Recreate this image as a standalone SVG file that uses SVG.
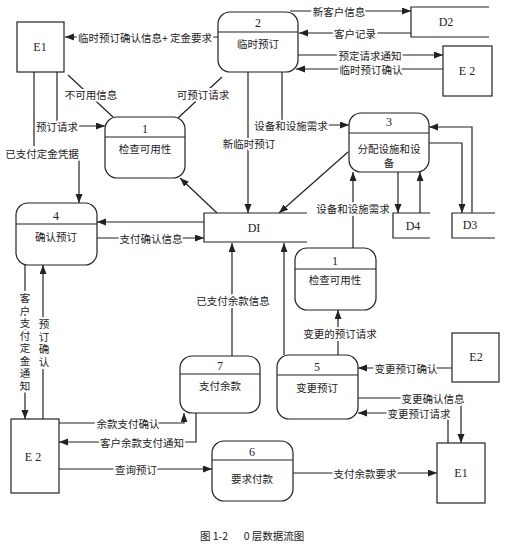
<svg xmlns="http://www.w3.org/2000/svg" width="509" height="550" viewBox="0 0 509 550">
<style>
.box{fill:#fff;stroke:#222;stroke-width:1.2}
.st{fill:none;stroke:#222;stroke-width:1.2}
.ln{fill:none;stroke:#222;stroke-width:1.2}
.arr{marker-end:url(#a)}
text{font-family:"Noto Sans CJK SC","Liberation Sans",sans-serif;font-size:10.5px;fill:#222;text-anchor:middle;dominant-baseline:central}
.lat{font-family:"Liberation Serif","Noto Sans CJK SC",serif;font-size:12px}
.h{stroke:#fff;stroke-width:4;paint-order:stroke;stroke-linejoin:round}
.v{writing-mode:vertical-rl;text-anchor:start;letter-spacing:2px}
</style>
<defs>
<marker id="a" markerUnits="userSpaceOnUse" markerWidth="10" markerHeight="8" refX="9" refY="3.5" orient="auto">
<path d="M0,0 L9,3.5 L0,7 z" fill="#222"/>
</marker>
</defs>
<rect width="509" height="550" fill="#fff"/>

<g id="connectors">
<path class="ln arr" d="M218,37 H65"/>
<text class="h" x="145" y="37">临时预订确认信息+ 定金要求</text>
<path class="ln arr" d="M290,11 H411"/>
<text class="h" x="339" y="11">新客户信息</text>
<path class="ln arr" d="M411,33 H299"/>
<text class="h" x="355" y="33">客户记录</text>
<path class="ln arr" d="M297,55 H443"/>
<text class="h" x="370" y="55">预定请求通知</text>
<path class="ln arr" d="M443,69 H296"/>
<text class="h" x="371" y="69">临时预订确认</text>
<path class="ln" d="M68,75 L113,117"/>
<text class="h" x="91" y="94">不可用信息</text>
<path class="ln" d="M222,77 L178,118"/>
<text class="h" x="203" y="94">可预订请求</text>
<path class="ln arr" d="M57,72 V126 H105"/>
<text class="h" x="57" y="126">预订请求</text>
<path class="ln" d="M34,72 V146"/>
<path class="ln arr" d="M79,160 V203"/>
<text class="h" x="42" y="153">已支付定金凭据</text>
<path class="ln arr" d="M248,72 V213"/>
<text class="h" x="249" y="143">新临时预订</text>
<path class="ln arr" d="M282,72 V125 H349"/>
<text class="h" x="291" y="125">设备和设施需求</text>
<path class="ln arr" d="M217,213 L180,178"/>
<path class="ln arr" d="M348,152 L279,213"/>
<path class="ln arr" d="M204,222 H97"/>
<path class="ln arr" d="M97,238 H204"/>
<text class="h" x="151" y="238">支付确认信息</text>
<path class="ln arr" d="M398,172 V213"/>
<path class="ln arr" d="M420,213 V172"/>
<path class="ln arr" d="M429,143 H462 V213"/>
<path class="ln arr" d="M472,213 V127 H429"/>
<path class="ln arr" d="M353,248 V172"/>
<text class="h" x="353" y="208">设备和设施需求</text>
<path class="ln arr" d="M338,355 V310"/>
<text class="h" x="340" y="333">变更的预订请求</text>
<path class="ln arr" d="M284,355 V243"/>
<path class="ln arr" d="M232,356 V243"/>
<text class="h" x="233" y="300">已支付余款信息</text>
<path class="ln arr" d="M452,368 H358"/>
<text class="h" x="406" y="368">变更预订确认</text>
<path class="ln arr" d="M358,398 H461 V443"/>
<text class="h" x="433" y="398">变更确认信息</text>
<path class="ln arr" d="M448,443 V413 H358"/>
<text class="h" x="419" y="413">变更预订请求</text>
<path class="ln arr" d="M293,473 H437"/>
<text class="h" x="365" y="473">支付余款要求</text>
<path class="ln arr" d="M59,469 H212"/>
<text class="h" x="136" y="469">查询预订</text>
<path class="ln arr" d="M59,423 H184 V413"/>
<text class="h" x="128" y="423">余款支付确认</text>
<path class="ln arr" d="M196,413 V442 H59"/>
<text class="h" x="142" y="442">客户余款支付通知</text>
<path class="ln arr" d="M25,265 V419"/>
<text class="h v" x="25" y="293">客户支付定金通知</text>
<path class="ln arr" d="M43,419 V265"/>
<text class="h v" x="44" y="319">预订确认</text>
</g>

<g id="E1-top">
<rect class="box" x="17" y="22" width="47" height="50"/>
<text class="lat" x="40" y="47">E1</text>
</g>
<g id="P2">
<rect class="box" x="218" y="12" width="80" height="60" rx="12"/>
<path class="st" d="M218,32 H298"/>
<text class="lat" x="258" y="23">2</text>
<text x="258" y="43">临时预订</text>
</g>
<g id="D2">
<path class="st" d="M489,7 H411 V37 H489"/>
<text class="lat" x="446" y="22">D2</text>
</g>
<g id="E2-top">
<rect class="box" x="443" y="46" width="49" height="50"/>
<text class="lat" x="467" y="71">E 2</text>
</g>
<g id="P1">
<rect class="box" x="105" y="117" width="80" height="61" rx="12"/>
<path class="st" d="M105,137 H185"/>
<text class="lat" x="145" y="129">1</text>
<text x="145" y="148">检查可用性</text>
</g>
<g id="P3">
<rect class="box" x="349" y="113" width="80" height="59" rx="12"/>
<path class="st" d="M349,133 H429"/>
<text class="lat" x="389" y="122">3</text>
<text x="389" y="148">分配设施和设</text>
<text x="389" y="162">备</text>
</g>
<g id="P4">
<rect class="box" x="16" y="203" width="81" height="62" rx="12"/>
<path class="st" d="M16,224 H97"/>
<text class="lat" x="56" y="216">4</text>
<text x="56" y="236">确认预订</text>
</g>
<g id="D1">
<path class="st" d="M307,213 H204 V242 H307"/>
<text class="lat" x="254" y="228">DI</text>
</g>
<g id="D4">
<path class="st" d="M430,213 H393 V238 H430"/>
<text class="lat" x="413" y="226">D4</text>
</g>
<g id="D3">
<path class="st" d="M495,213 H452 V238 H495"/>
<text class="lat" x="470" y="225">D3</text>
</g>
<g id="P1b">
<rect class="box" x="295" y="248" width="81" height="62" rx="12"/>
<path class="st" d="M295,269 H376"/>
<text class="lat" x="335" y="261">1</text>
<text x="335" y="279">检查可用性</text>
</g>
<g id="E2-right">
<rect class="box" x="452" y="333" width="47" height="49"/>
<text class="lat" x="476" y="357">E2</text>
</g>
<g id="P5">
<rect class="box" x="277" y="355" width="81" height="64" rx="12"/>
<path class="st" d="M277,375 H358"/>
<text class="lat" x="317" y="367">5</text>
<text x="317" y="387">变更预订</text>
</g>
<g id="P7">
<rect class="box" x="180" y="356" width="80" height="57" rx="12"/>
<path class="st" d="M180,374 H260"/>
<text class="lat" x="220" y="366">7</text>
<text x="220" y="385">支付余款</text>
</g>
<g id="E2-bottom">
<rect class="box" x="11" y="419" width="48" height="74"/>
<text class="lat" x="33" y="457">E 2</text>
</g>
<g id="P6">
<rect class="box" x="212" y="441" width="81" height="60" rx="12"/>
<path class="st" d="M212,460 H293"/>
<text class="lat" x="252" y="452">6</text>
<text x="252" y="478">要求付款</text>
</g>
<g id="E1-bottom">
<rect class="box" x="437" y="443" width="48" height="60"/>
<text class="lat" x="461" y="473">E1</text>
</g>
<g id="caption">
<text x="214" y="535">图 1-2</text>
<text x="274" y="535">0 层数据流图</text>
</g>
</svg>
